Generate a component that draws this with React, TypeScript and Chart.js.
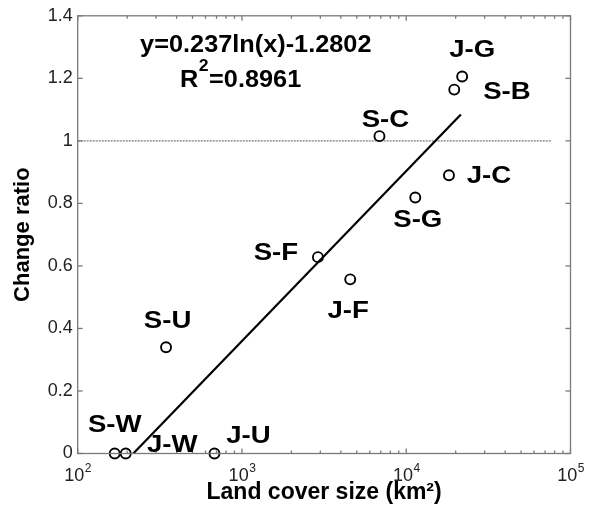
import React, { useEffect, useRef } from "react";
import { Chart, registerables } from "chart.js";

Chart.register(...registerables);

// ---------- data ----------
const POINT_LABELS = ["S-W", "J-W", "J-U", "S-U", "S-F", "J-F", "S-C", "S-G", "J-C", "S-B", "J-G"];
const LAND_COVER_SIZE = [168, 196, 680, 345, 2900, 4560, 6870, 11350, 18200, 19600, 21900];
const CHANGE_RATIO = [0, 0, 0, 0.34, 0.628, 0.557, 1.015, 0.819, 0.89, 1.164, 1.206];

const FIT_X = [218, 21500];
const FIT_Y = [0, 1.084];

const REF_X = [100, 77000];
const REF_Y = [1, 1];

const Y_TICKS = [0, 0.2, 0.4, 0.6, 0.8, 1, 1.2, 1.4];
const Y_TICK_LABELS = ["0", "0.2", "0.4", "0.6", "0.8", "1", "1.2", "1.4"];
const X_TICKS = [100, 1000, 10000, 100000];
const X_TICK_BASE = "10";
const X_TICK_EXPONENTS = ["2", "3", "4", "5"];

const EQUATION = "y=0.237ln(x)-1.2802";
const R2_TEXT = "=0.8961";
const X_TITLE = "Land cover size (km²)";
const Y_TITLE = "Change ratio";

// ---------- layout / style (not data) ----------
const LABEL_OFFSETS: [number, number][] = [
  [0, -30], [46.5, -10], [34, -19], [1.5, -27], [-42, -5], [-2, 30.5],
  [6, -17.5], [2.5, 21.6], [40, 0], [52.7, 1.7], [10, -27.5],
];
const FONT = "'Liberation Sans', Arial, Helvetica, sans-serif";

function drawScaled(ctx: CanvasRenderingContext2D, text: string, x: number, baseline: number,
  font: string, sx: number, align: CanvasTextAlign) {
  ctx.save();
  ctx.font = font;
  ctx.textAlign = align;
  ctx.textBaseline = "alphabetic";
  ctx.translate(x, baseline);
  ctx.scale(sx, 1);
  ctx.fillText(text, 0, 0);
  ctx.restore();
}

const decorPlugin = {
  id: "decor",
  afterDatasetsDraw(chart: any) {
    const ctx: CanvasRenderingContext2D = chart.ctx;
    const { left, top, right, bottom } = chart.chartArea;
    const xs = chart.scales.x;
    const ys = chart.scales.y;
    ctx.save();
    // box
    ctx.strokeStyle = "#7a7a7a";
    ctx.lineWidth = 1.3;
    ctx.strokeRect(left, top, right - left, bottom - top);
    const seg = (x1: number, y1: number, x2: number, y2: number) => {
      ctx.beginPath(); ctx.moveTo(x1, y1); ctx.lineTo(x2, y2); ctx.stroke();
    };
    // y ticks (inward, both sides)
    for (const v of Y_TICKS) {
      const py = ys.getPixelForValue(v);
      seg(left, py, left + 5, py);
      seg(right, py, right - 5, py);
    }
    // x ticks: major + minor (log)
    for (let d = 0; d < X_TICKS.length; d++) {
      const base = X_TICKS[d];
      const maxM = d === X_TICKS.length - 1 ? 1 : 9;
      for (let m = 1; m <= maxM; m++) {
        const px = xs.getPixelForValue(base * m);
        const len = m === 1 ? 5 : 3;
        seg(px, bottom, px, bottom - len);
        seg(px, top, px, top + len);
      }
    }
    // x tick labels with superscripts
    ctx.fillStyle = "#222";
    X_TICKS.forEach((v, i) => {
      const px = xs.getPixelForValue(v);
      ctx.font = `18px ${FONT}`;
      const w1 = ctx.measureText(X_TICK_BASE).width;
      ctx.font = `12px ${FONT}`;
      const w2 = ctx.measureText(X_TICK_EXPONENTS[i]).width;
      const start = px - (w1 + w2) / 2;
      drawScaled(ctx, X_TICK_BASE, start, bottom + 27, `18px ${FONT}`, 1, "left");
      drawScaled(ctx, X_TICK_EXPONENTS[i], start + w1 + 0.5, bottom + 18.5, `12px ${FONT}`, 1, "left");
    });

    // point labels
    ctx.fillStyle = "#000";
    const meta = chart.getDatasetMeta(0);
    meta.data.forEach((el: any, i: number) => {
      const [dx, dy] = LABEL_OFFSETS[i];
      const cx = el.x + dx;
      const cy = el.y + dy;
      drawScaled(ctx, POINT_LABELS[i], cx, cy + 8.2, `bold 23px ${FONT}`, 1.2, "center");
    });

    // equation annotation
    drawScaled(ctx, EQUATION, 255.8, 51.9, `bold 23px ${FONT}`, 1.1, "center");
    ctx.font = `bold 23px ${FONT}`;
    const wR = ctx.measureText("R").width * 1.1;
    drawScaled(ctx, "R", 180, 86.9, `bold 23px ${FONT}`, 1.1, "left");
    ctx.font = `bold 16px ${FONT}`;
    const w2 = ctx.measureText("2").width * 1.1;
    drawScaled(ctx, "2", 180 + wR + 0.5, 70.5, `bold 16px ${FONT}`, 1.1, "left");
    drawScaled(ctx, R2_TEXT, 180 + wR + w2 + 1, 86.9, `bold 23px ${FONT}`, 1.1, "left");
    ctx.restore();
  },
};

export default function App() {
  const ref = useRef<HTMLCanvasElement | null>(null);
  useEffect(() => {
    document.body.style.margin = "0";
    const canvas = ref.current;
    if (!canvas) return;
    const chart = new Chart(canvas, {
      type: "scatter",
      data: {
        datasets: [
          {
            label: "points",
            data: LAND_COVER_SIZE.map((x, i) => ({ x, y: CHANGE_RATIO[i] })),
            pointStyle: "circle",
            pointRadius: 5,
            pointBorderWidth: 1.9,
            borderColor: "#000",
            backgroundColor: "rgba(0,0,0,0)",
            showLine: false,
            clip: false as any,
          },
          {
            label: "fit",
            data: FIT_X.map((x, i) => ({ x, y: FIT_Y[i] })),
            showLine: true,
            borderColor: "#000",
            borderWidth: 2.2,
            pointRadius: 0,
          },
          {
            label: "ref",
            data: REF_X.map((x, i) => ({ x, y: REF_Y[i] })),
            showLine: true,
            borderColor: "#a0a0a0",
            borderWidth: 1.6,
            borderDash: [2, 1],
            pointRadius: 0,
          },
        ],
      },
      options: {
        animation: false,
        responsive: false,
        events: [],
        layout: { padding: { left: 10, top: 14, right: 23.5, bottom: 2.5 } },
        plugins: { legend: { display: false }, tooltip: { enabled: false } },
        scales: {
          x: {
            type: "logarithmic",
            min: 100,
            max: 100000,
            grid: { display: false, drawTicks: false },
            border: { display: false },
            ticks: { display: false },
            title: {
              display: true,
              text: X_TITLE,
              color: "#000",
              font: { family: FONT, size: 23, weight: "bold" },
              padding: { top: 0, bottom: 0 },
            },
            afterFit: (s: any) => { s.height = 53; },
          },
          y: {
            type: "linear",
            min: 0,
            max: 1.4,
            grid: { display: false, drawTicks: false },
            border: { display: false },
            afterBuildTicks: (s: any) => { s.ticks = Y_TICKS.map((v) => ({ value: v })); },
            ticks: {
              color: "#222",
              padding: 5,
              font: { family: FONT, size: 18 },
              callback: (v: any) => {
                const i = Y_TICKS.findIndex((t) => Math.abs(t - Number(v)) < 1e-6);
                return i >= 0 ? Y_TICK_LABELS[i] : "";
              },
            },
            title: {
              display: true,
              text: Y_TITLE,
              color: "#000",
              font: { family: FONT, size: 22, weight: "bold" },
              padding: { top: 0, bottom: 0 },
            },
            afterFit: (s: any) => { s.width = 67.7; },
          },
        },
      },
      plugins: [decorPlugin],
    });
    return () => chart.destroy();
  }, []);
  return (
    <div style={{ width: 594, height: 509, background: "#fff" }}>
      <canvas ref={ref} width={594} height={509} style={{ display: "block" }} />
    </div>
  );
}
